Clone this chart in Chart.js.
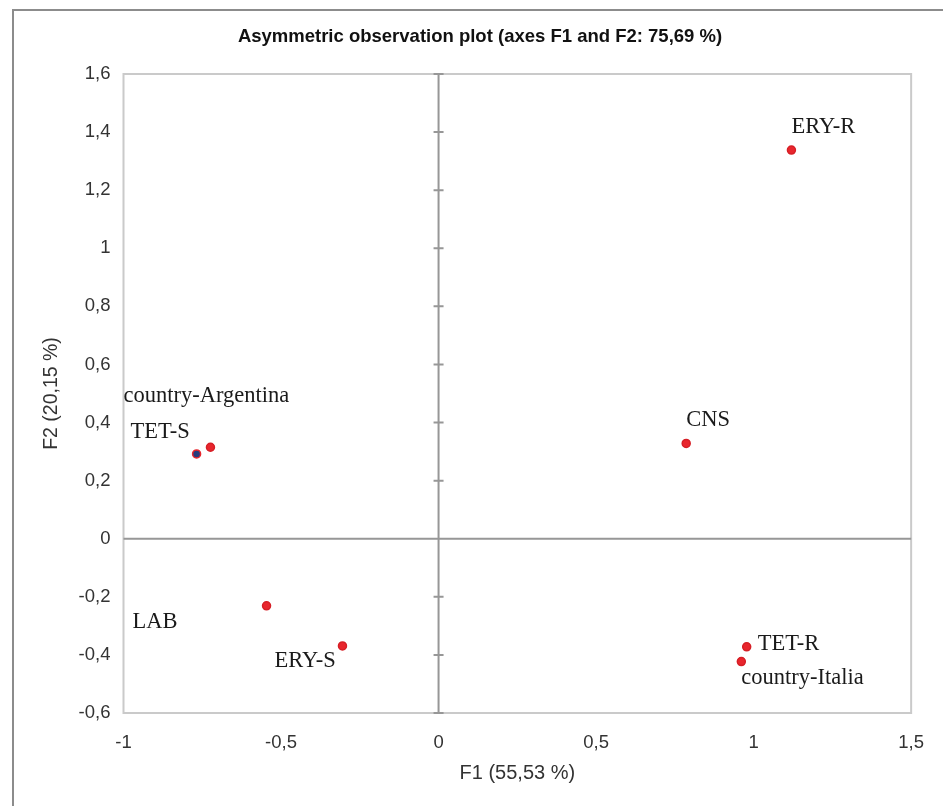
<!DOCTYPE html>
<html>
<head>
<meta charset="utf-8">
<script src="https://cdn.jsdelivr.net/npm/chart.js@4/dist/chart.umd.min.js"></script>
<style>
  html, body { margin: 0; padding: 0; background: #fff; }
  #wrap { position: relative; width: 943px; height: 806px; }
</style>
</head>
<body>
<div id="wrap"><canvas id="chart"></canvas></div>
<script>
const labels = ['ERY-R', 'CNS', 'country-Argentina', 'TET-S', 'LAB', 'ERY-S', 'TET-R', 'country-Italia'];
const f1 = [1.120, 0.786, -0.724, -0.768, -0.546, -0.305, 0.978, 0.961];
const f2 = [1.338, 0.328, 0.315, 0.292, -0.231, -0.369, -0.372, -0.423];
const xTicks = [-1, -0.5, 0, 0.5, 1, 1.5];
const yTicks = [-0.6, -0.4, -0.2, 0, 0.2, 0.4, 0.6, 0.8, 1, 1.2, 1.4, 1.6];
const chartTitle = 'Asymmetric observation plot (axes F1 and F2: 75,69 %)';

// where each label sits relative to its point, in pixels (text left, text middle)
const labelOffsets = [[0, -23], [0, -23], [-87, -51], [-66, -22], [-134, 16], [-68, 15], [11, -3], [0, 17]];

const RED = '#e8262d';
const fmt = v => String(Math.round(v * 10) / 10).replace('.', ',');
const sans = "'Liberation Sans', Arial, sans-serif";

const frame = {
  id: 'frame',
  beforeDraw(chart) {
    const { ctx, chartArea: a } = chart;
    ctx.save();
    // outer frame (left and top edge visible)
    ctx.strokeStyle = '#8c8c8c';
    ctx.lineWidth = 2;
    ctx.beginPath();
    ctx.moveTo(13, 806);
    ctx.lineTo(13, 10);
    ctx.lineTo(943, 10);
    ctx.stroke();
    // plot box
    ctx.strokeStyle = '#cacaca';
    ctx.strokeRect(a.left, a.top, a.right - a.left, a.bottom - a.top);
    // zero lines
    const x0 = chart.scales.x.getPixelForValue(0);
    const y0 = chart.scales.y.getPixelForValue(0);
    ctx.strokeStyle = '#979797';
    ctx.beginPath();
    ctx.moveTo(a.left, y0);
    ctx.lineTo(a.right, y0);
    ctx.moveTo(x0, a.top);
    ctx.lineTo(x0, a.bottom);
    yTicks.forEach(v => {
      const py = chart.scales.y.getPixelForValue(v);
      ctx.moveTo(x0 - 5, py);
      ctx.lineTo(x0 + 5, py);
    });
    ctx.stroke();
    // title, centred like the original (not on the plot area)
    ctx.font = 'bold 18.5px ' + sans;
    ctx.fillStyle = '#111';
    ctx.textAlign = 'center';
    ctx.textBaseline = 'middle';
    ctx.fillText(chartTitle, 480, 37);
    ctx.restore();
  },
  afterDatasetsDraw(chart) {
    const { ctx } = chart;
    const meta = chart.getDatasetMeta(0);
    ctx.save();
    ctx.font = "22.5px 'Liberation Serif', 'Times New Roman', serif";
    ctx.fillStyle = '#1a1a1a';
    ctx.textBaseline = 'middle';
    ctx.textAlign = 'left';
    meta.data.forEach((pt, i) => {
      const [dx, dy] = labelOffsets[i];
      ctx.fillText(labels[i], pt.x + dx, pt.y + dy);
    });
    ctx.restore();
  }
};

new Chart(document.getElementById('chart'), {
  type: 'scatter',
  data: {
    datasets: [{
      label: 'Observations',
      data: f1.map((x, i) => ({ x, y: f2[i] })),
      pointRadius: 4,
      pointBorderWidth: 1.5,
      pointBackgroundColor: labels.map(l => l === 'TET-S' ? '#283c7c' : RED),
      pointBorderColor: labels.map(l => l === 'TET-S' ? '#e8262d' : '#d61f26'),
      pointHoverRadius: 5
    }]
  },
  options: {
    responsive: true,
    maintainAspectRatio: false,
    animation: false,
    layout: { padding: { left: 0, right: 30.5, top: 74, bottom: 0 } },
    plugins: {
      legend: { display: false },
      tooltip: { enabled: false },
      title: { display: false }
    },
    scales: {
      x: {
        type: 'linear',
        min: -1,
        max: 1.5,
        afterBuildTicks(scale) { scale.ticks = xTicks.map(value => ({ value })); },
        afterFit(scale) { scale.height = 93; },
        grid: { display: false, drawTicks: false },
        border: { display: false },
        ticks: {
          padding: 19,
          color: '#333',
          font: { family: sans, size: 18.5 },
          callback: v => fmt(v)
        },
        title: {
          display: true,
          text: 'F1 (55,53 %)',
          color: '#333',
          font: { family: sans, size: 20 },
          padding: { top: 0, bottom: 21 }
        }
      },
      y: {
        type: 'linear',
        min: -0.6,
        max: 1.6,
        afterBuildTicks(scale) { scale.ticks = yTicks.map(value => ({ value })); },
        afterFit(scale) { scale.width = 123.5; },
        grid: { display: false, drawTicks: false },
        border: { display: false },
        ticks: {
          padding: 13,
          color: '#333',
          font: { family: sans, size: 18.5 },
          callback: v => fmt(v)
        },
        title: {
          display: true,
          text: 'F2 (20,15 %)',
          color: '#333',
          font: { family: sans, size: 19.5 },
          padding: { top: 40, bottom: 0 }
        }
      }
    }
  },
  plugins: [frame]
});
</script>
</body>
</html>
